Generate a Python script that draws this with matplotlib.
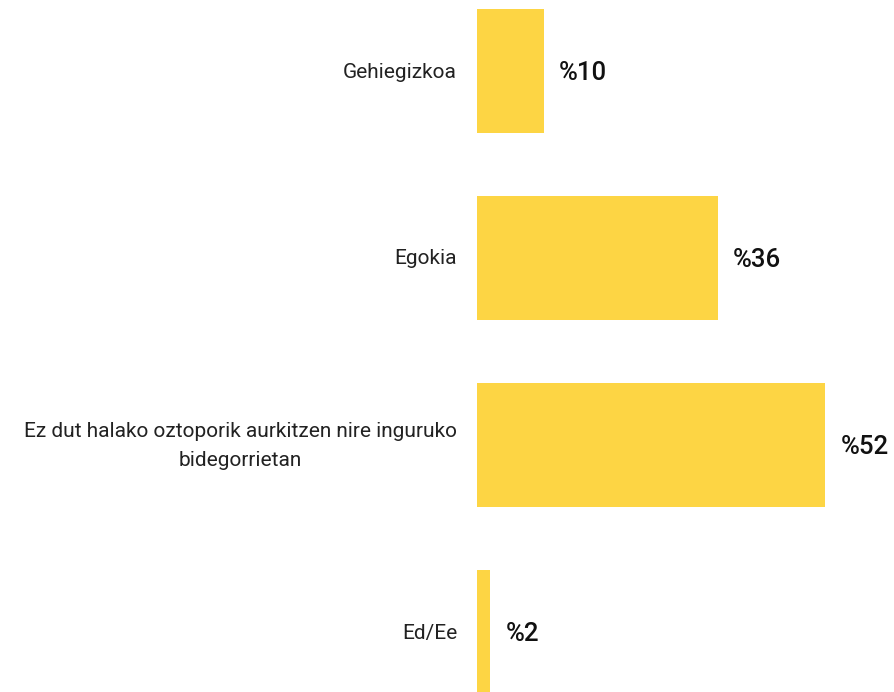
import matplotlib.pyplot as plt

plt.rcParams['font.family'] = ['Roboto', 'DejaVu Sans']

# data
categories = [
    "Gehiegizkoa",
    "Egokia",
    "Ez dut halako oztoporik aurkitzen nire inguruko\nbidegorrietan",
    "Ed/Ee",
]
values = [10, 36, 52, 2]
value_labels = ["%10", "%36", "%52", "%2"]

bar_color = "#FDD544"

fig = plt.figure(figsize=(8.95, 6.92), dpi=100)
ax = fig.add_axes([477 / 895, 0.0, 1 - 477 / 895, 1.0])

pos = list(range(len(categories)))
ax.barh(pos, values, height=0.665, color=bar_color)

# px per percent ~ 6.7, axes is 418 px wide
ax.set_xlim(0, 418 / 6.7)
ax.set_ylim(3 + 60 / 187, -71 / 187)

for p, v, lab in zip(pos, values, value_labels):
    ax.annotate(lab, (v, p), xytext=(15, -2), textcoords="offset pixels",
                ha="left", va="center", fontsize=18.5, fontweight="medium",
                color="#111111", annotation_clip=False)

for p, cat in zip(pos, categories):
    ax.annotate(cat, (0, p), xytext=(-20, -1), textcoords="offset pixels",
                ha="right", va="center", multialignment="center",
                fontsize=15, linespacing=1.72, color="#222222",
                annotation_clip=False)

ax.set_xticks([])
ax.set_yticks([])
for s in ax.spines.values():
    s.set_visible(False)

fig.savefig("out.png", dpi=100)
